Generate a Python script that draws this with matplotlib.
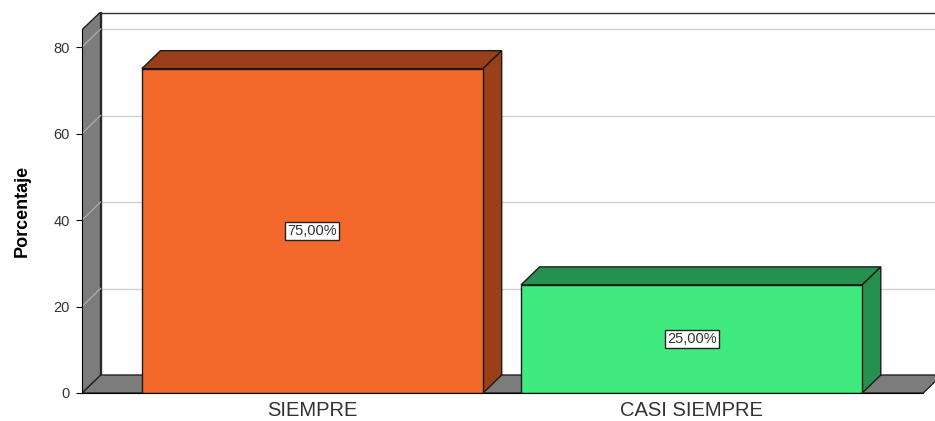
import numpy as np
import matplotlib
matplotlib.use("Agg")
import matplotlib.pyplot as plt
from matplotlib.patches import Polygon, Rectangle

plt.rcParams['font.family'] = ['Liberation Sans', 'DejaVu Sans']

# datos
categorias = ["SIEMPRE", "CASI SIEMPRE"]
porcentajes = [75.0, 25.0]
etiquetas = ["75,00%", "25,00%"]
ticks_y = [0, 20, 40, 60, 80]

# colores (frente, lado/arriba)
col_frente = ["#F3692C", "#41EA7F"]
col_lado = ["#99401B", "#26904F"]
gris = "#7c7c7c"

# geometria del "3D"
ancho = 0.9
dx = 0.049          # profundidad en unidades de categoria
dy = 4.16           # profundidad en unidades de porcentaje
x_izq, x_der = -0.608, 1.642
y_top = 88.1
y_frente = 84.0
x_piso = 1.611

fig = plt.figure(figsize=(9.35, 4.21), dpi=100)
ax = fig.add_axes([82/935, 28/421, (935-82)/935, (393-12)/421])
ax.set_xlim(x_izq, x_der)
ax.set_ylim(0, y_top)

# pared del fondo: lineas de cuadricula
for t in ticks_y[1:]:
    ax.plot([x_izq+dx, x_der+1], [t+dy, t+dy], color="#d0d0d0", lw=1, zorder=1)
ax.plot([x_izq+dx, x_der+1], [y_top-0.15, y_top-0.15], color="#333333", lw=1, zorder=1)
ax.plot([x_izq+dx, x_izq+dx], [dy, y_top], color="#333333", lw=1, zorder=1)

# piso
piso = Polygon([(x_izq, 0), (x_piso, 0), (x_piso+dx, dy), (x_izq+dx, dy)],
               closed=True, facecolor=gris, edgecolor="#222222", lw=1, zorder=2)
ax.add_patch(piso)

# pared izquierda
pared = Polygon([(x_izq, 0), (x_izq, y_frente), (x_izq+dx, y_top), (x_izq+dx, dy)],
                closed=True, facecolor=gris, edgecolor="#222222", lw=1, zorder=2)
ax.add_patch(pared)
for t in ticks_y[1:]:
    ax.plot([x_izq, x_izq+dx], [t, t+dy], color="#a8a8a8", lw=1, zorder=3)

# barras
for i, v in enumerate(porcentajes):
    x0 = i - ancho/2
    x1 = i + ancho/2
    arriba = Polygon([(x0, v), (x1, v), (x1+dx, v+dy), (x0+dx, v+dy)], closed=True,
                     facecolor=col_lado[i], edgecolor="#1a1a1a", lw=1, zorder=4)
    lado = Polygon([(x1, 0), (x1+dx, dy), (x1+dx, v+dy), (x1, v)], closed=True,
                   facecolor=col_lado[i], edgecolor="#1a1a1a", lw=1, zorder=4)
    frente = Rectangle((x0, 0), ancho, v, facecolor=col_frente[i],
                       edgecolor="#1a1a1a", lw=1, zorder=5)
    ax.add_patch(arriba)
    ax.add_patch(lado)
    ax.add_patch(frente)
    ax.text(i, v/2, etiquetas[i], ha="center", va="center", fontsize=10.5,
            color="#333333", zorder=6,
            bbox=dict(boxstyle="square,pad=0.15", facecolor="white", edgecolor="#222222", lw=1))

# ejes
for s in ["top", "right"]:
    ax.spines[s].set_visible(False)
ax.spines["left"].set_bounds(0, y_frente)
ax.spines["bottom"].set_bounds(x_izq, x_piso)
ax.spines["left"].set_zorder(7)
ax.spines["bottom"].set_zorder(7)
ax.set_yticks(ticks_y)
ax.tick_params(axis="y", length=4, labelsize=10.5, labelcolor="#333333", pad=5)
ax.set_xticks(range(len(categorias)))
ax.set_xticklabels(categorias)
ax.tick_params(axis="x", length=0, labelsize=14.5, labelcolor="#333333", pad=6)
ax.set_ylabel("Porcentaje", fontsize=13, fontweight="bold", va="center",
              family=["Liberation Sans Narrow", "Liberation Sans", "DejaVu Sans"])
ax.yaxis.set_label_coords(-0.07, 0.478)
ax.patch.set_alpha(0)

fig.savefig("out.png", dpi=100)
